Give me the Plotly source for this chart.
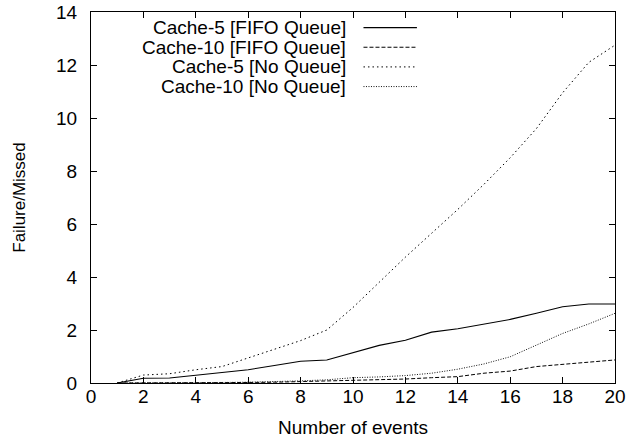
import plotly.graph_objects as go

events = list(range(1, 21))

cache5_fifo = [0.0, 0.18, 0.19, 0.29, 0.39, 0.5, 0.66, 0.82, 0.87, 1.15,
               1.42, 1.61, 1.92, 2.05, 2.23, 2.4, 2.63, 2.88, 2.98, 2.98]
cache10_fifo = [0.0, 0.0, 0.0, 0.01, 0.01, 0.02, 0.03, 0.05, 0.08, 0.11,
                0.13, 0.15, 0.2, 0.24, 0.37, 0.45, 0.62, 0.7, 0.79, 0.87]
cache5_noq = [0.0, 0.3, 0.35, 0.5, 0.62, 0.95, 1.25, 1.6, 2.0, 2.85,
              3.8, 4.75, 5.65, 6.55, 7.5, 8.5, 9.6, 10.95, 12.1, 12.75]
cache10_noq = [0.0, 0.0, 0.01, 0.01, 0.02, 0.03, 0.05, 0.08, 0.12, 0.2,
               0.23, 0.28, 0.37, 0.52, 0.72, 0.99, 1.43, 1.87, 2.23, 2.63]

names = ["Cache-5 [FIFO Queue]", "Cache-10 [FIFO Queue]",
         "Cache-5 [No Queue]", "Cache-10 [No Queue]"]
series = [cache5_fifo, cache10_fifo, cache5_noq, cache10_noq]
styles = [("#000000", "solid", 1.1),
          ("#000000", "4px,2px", 1.0),
          ("#000000", "1.5px,3px", 1.0),
          ("#111111", "1px,1.5px", 1.0)]

x_ticks = list(range(0, 21, 2))
y_ticks = list(range(0, 15, 2))

FONT = "Liberation Sans, Arial, sans-serif"

fig = go.Figure()
for name, ys, (col, dash, w) in zip(names, series, styles):
    fig.add_trace(go.Scatter(x=events, y=ys, mode="lines", name=name,
                             line=dict(color=col, dash=dash, width=w),
                             showlegend=False))

# gnuplot-style key: right-aligned text with sample line to its right
row_y = [0.958, 0.905, 0.852, 0.799]
for name, yy, (col, dash, w) in zip(names, row_y, styles):
    fig.add_annotation(x=0.488, y=yy, xref="paper", yref="paper",
                       text=name, showarrow=False, xanchor="right",
                       yanchor="middle", borderpad=0,
                       font=dict(size=19, family=FONT, color="#000"))
    fig.add_shape(type="line", xref="paper", yref="paper",
                  x0=0.52, x1=0.622, y0=yy, y1=yy,
                  line=dict(color=col, dash=dash, width=w))

axis_common = dict(showline=True, linecolor="#000", linewidth=1.2, mirror="ticks",
                   ticks="inside", ticklen=6, tickwidth=1, tickcolor="#000",
                   showgrid=False, zeroline=False, automargin=False,
                   ticklabeloverflow="allow",
                   tickfont=dict(size=19, family=FONT, color="#000"))

fig.update_xaxes(range=[0, 20], tickvals=x_ticks, ticklabelstandoff=-4,
                 title=dict(text="Number of events", standoff=14,
                            font=dict(size=19, family=FONT, color="#000")),
                 **axis_common)
fig.update_yaxes(range=[0, 14], tickvals=y_ticks, ticklabelstandoff=9,
                 title=dict(text="Failure/Missed", standoff=26,
                            font=dict(size=17, family=FONT, color="#000")),
                 **axis_common)

fig.update_layout(width=642, height=444,
                  margin=dict(l=91, r=27, t=12, b=61),
                  paper_bgcolor="white", plot_bgcolor="white",
                  font=dict(family=FONT, color="#000"))

# remove the default page margin so the figure fills the window exactly
fig.write_html("out.html", config={"displayModeBar": False},
               post_script="document.body.style.margin='0px';document.body.style.overflow='hidden';")
